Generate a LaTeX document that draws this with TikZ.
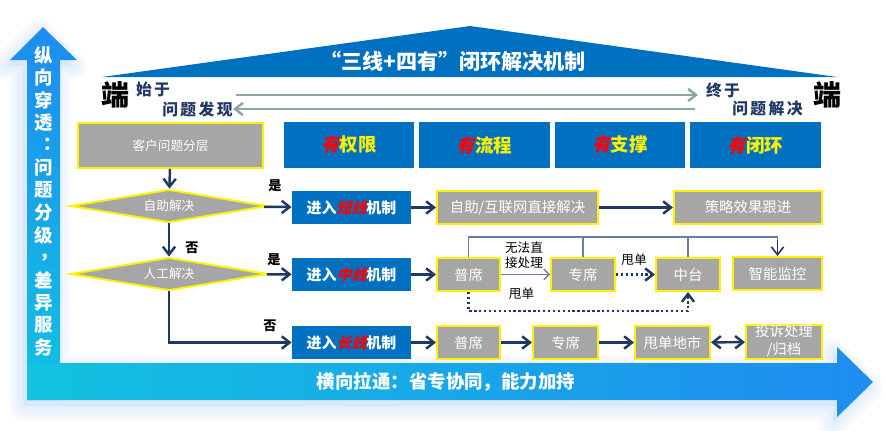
\documentclass[tikz,border=0pt]{standalone}
\usepackage{fontspec}
\setmainfont{Noto Sans CJK SC}
\newfontfamily\slcjk[FakeSlant=0.25]{Noto Sans CJK SC}
\usetikzlibrary{arrows.meta,shapes.geometric}
\definecolor{hdblue}{HTML}{0070C0}
\definecolor{boxgray}{HTML}{A6A6A6}
\definecolor{navy}{HTML}{1F3864}
\definecolor{garrow}{HTML}{8FA3AC}
\definecolor{brkline}{HTML}{6A7F9C}
\definecolor{arrblue}{HTML}{1E8CF0}
\definecolor{arrcyan}{HTML}{12C2E0}
\definecolor{glowblue}{HTML}{C9DDF8}
\newcommand{\redit}[1]{{\slcjk\bfseries\color{red}#1}}
\tikzset{
  hd/.style={fill=hdblue, text=yellow, font=\fontsize{10.5}{12}\selectfont\bfseries,
    minimum width=2.62cm, minimum height=0.92cm, inner sep=0pt},
  gbox/.style={fill=boxgray, draw=yellow, line width=1.1pt, text=white,
    font=\fontsize{8.2}{9.6}\selectfont, minimum height=0.66cm, inner sep=0pt},
  bbox/.style={fill=hdblue, text=white, font=\fontsize{8.5}{10}\selectfont\bfseries,
    minimum width=2.38cm, minimum height=0.66cm, inner sep=0pt},
  dec/.style={diamond, aspect=6, fill=boxgray, draw=yellow, line width=1.1pt, text=white,
    font=\fontsize{7.2}{8}\selectfont, minimum width=3.94cm, minimum height=0.66cm, inner sep=0pt},
  lbl/.style={font=\fontsize{7.5}{8.5}\selectfont\bfseries, inner sep=0pt},
  ends/.style={text=navy, font=\fontsize{9}{10}\selectfont\bfseries\addfontfeatures{LetterSpace=15}, inner sep=0pt},
  duan/.style={font=\fontsize{16}{17}\selectfont\bfseries, inner sep=0pt},
  vt/.style={text=white, font=\fontsize{10.5}{11}\selectfont\bfseries, inner sep=0pt},
  glow/.style={draw=glowblue, fill=glowblue, opacity=0.14, line join=round},
  flow/.style={navy, line width=1.4pt, ->},
  dots/.style={navy, line width=1.4pt, dash pattern=on 1.4pt off 1.4pt, ->},
  brk/.style={brkline, line width=0.9pt},
  garr/.style={garrow, line width=1.4pt, ->},
}
\begin{document}
\begin{tikzpicture}[x=0.02cm, y=-0.02cm, >={Straight Barb[length=4.5pt,width=7pt]}]
\useasboundingbox (0,0) rectangle (886,430);

% soft glow round the L arrow
\foreach \lw in {16,12,8,4}
  \draw[glow, line width=\lw pt] (39,33) -- (73,66) -- (56,66) -- (56,369) -- (833,369) -- (833,353)
    -- (869,388) -- (833,423) -- (833,406) -- (23,406) -- (23,66) -- (6,66) -- cycle;

% L arrow
\shade[top color=arrblue, bottom color=arrcyan] (43,27) -- (77,60) -- (60,60) -- (60,400)
  -- (27,400) -- (27,60) -- (10,60) -- cycle;
\shade[left color=arrcyan, right color=arrblue] (27,363) -- (837,363) -- (837,347) -- (873,382)
  -- (837,417) -- (837,400) -- (27,400) -- cycle;
\foreach \c [count=\i from 0] in {纵,向,穿,透,︓,问,题,分,级,{},差,异,服,务}
  \node[vt] at (44,55+22.5*\i) {\c};
\node[vt] (vcm) at (49,257.5) {，};
\node[vt] (hlt) at (446,382) {横向拉通：省专协同，能力加持};

% banner
\fill[hdblue] (102,77) -- (470,26) -- (837,77) -- cycle;
\node[text=white, font=\fontsize{12}{13}\selectfont\bfseries] (ttl) at (453,61) {“三线+四有”闭环解决机制};
\node[duan] (dl) at (116,95) {端};
\node[ends] (sy) at (153,89) {始于};
\node[ends] (fx) at (197.5,109) {问题发现};
\node[ends] (zy) at (723,90) {终于};
\node[ends] (jj) at (767.5,109) {问题解决};
\node[duan] (dr) at (828,95) {端};
\coordinate (fwdS) at (236,95);
\coordinate (fwdE) at (698,95);
\coordinate (backS) at (695,109);
\draw[garr] (fwdS) -- (fwdE);
\draw[garr] (backS) -- (fx.east);

% header row
\node[gbox, minimum width=3.7cm, minimum height=0.9cm, font=\fontsize{7.2}{8}\selectfont] (kh) at (170.5,145.5) {客户问题分层};
\foreach \w [count=\i from 0] in {权限,流程,支撑,闭环}
  \node[hd] (h\i) at (349+135.5*\i,145) {\redit{有}\w};

% decisions
\node[dec] (d1) at (169,206) {自助解决};
\node[dec] (d2) at (169,274) {人工解决};

% short line
\node[bbox] (s1) at (351.5,207.5) {进入\redit{短线}机制};
\node[gbox, minimum width=3.22cm] (s2) at (517.5,207.5) {自助/互联网直接解决};
\node[gbox, minimum width=2.96cm] (s3) at (748,207.5) {策略效果跟进};

% middle line
\node[bbox] (m1) at (351.5,274.5) {进入\redit{中线}机制};
\node[gbox, minimum width=1.26cm] (m2) at (468.5,274.5) {普席};
\node[gbox, minimum width=1.28cm] (m3) at (583,274.5) {专席};
\node[gbox, minimum width=1.28cm] (m4) at (688,274.5) {中台};
\node[gbox, minimum width=1.78cm] (m5) at (777.5,273.5) {智能监控};

% long line
\node[bbox] (l1) at (351.5,342.5) {进入\redit{长线}机制};
\node[gbox, minimum width=1.26cm] (l2) at (468.5,342.5) {普席};
\node[gbox, minimum width=1.3cm] (l3) at (565.5,342.5) {专席};
\node[gbox, minimum width=1.5cm] (l4) at (672.5,342.5) {甩单地市};
\node[gbox, minimum width=1.52cm] (l5) at (784,342)
  {\raisebox{1.8pt}{\begin{tabular}{@{}c@{}}投诉处理\\/归档\end{tabular}}};

% flow
\draw[flow] (kh) -- (d1);
\draw[flow] (d1) -- (d2);
\draw[flow] (d1) -- (s1);
\draw[flow] (d2) -- (m1);
\draw[flow] (d2.south) |- (l1.west);
\node[lbl] (y1) at (275,186) {是};
\node[lbl] (n1) at (192,248) {否};
\node[lbl] (y2) at (274,260) {是};
\node[lbl] (n2) at (270,326) {否};

\draw[flow] (s1) -- (s2);
\draw[flow] (s2) -- (s3);

\draw[flow] (m1) -- (m2);
\draw[brkline, line width=0.8pt, -{Straight Barb[length=3pt,width=6pt]}] (m2) -- (m3);
\node[lbl, align=center, font=\fontsize{7.2}{8.4}\selectfont] (wf) at (524,255.5) {无法直\\接处理};
\draw[dots] (m3) -- (m4);
\node[lbl, font=\fontsize{7.2}{8.4}\selectfont] (sd1) at (634,260) {甩单};
\draw[brk] (m2.north) -- (m2.north |- 0,237) -| (m5.north);
\draw[navy, line width=0.9pt, ->] (m5.north |- 0,240) -- (m5.north);
\draw[brk] (m3.north) -- (m3.north |- 0,237);
\draw[brk] (m4.north) -- (m4.north |- 0,237);
\draw[dots] (m2.south) -- (m2.south |- 0,311) -| (m4.south);
\node[lbl, font=\fontsize{7.2}{8.4}\selectfont] (sd2) at (521.5,294) {甩单};

\draw[flow] (l1) -- (l2);
\draw[flow] (l2) -- (l3);
\draw[flow] (l3) -- (l4);
\draw[flow, <->] (l4) -- (l5);

\end{tikzpicture}
\end{document}
